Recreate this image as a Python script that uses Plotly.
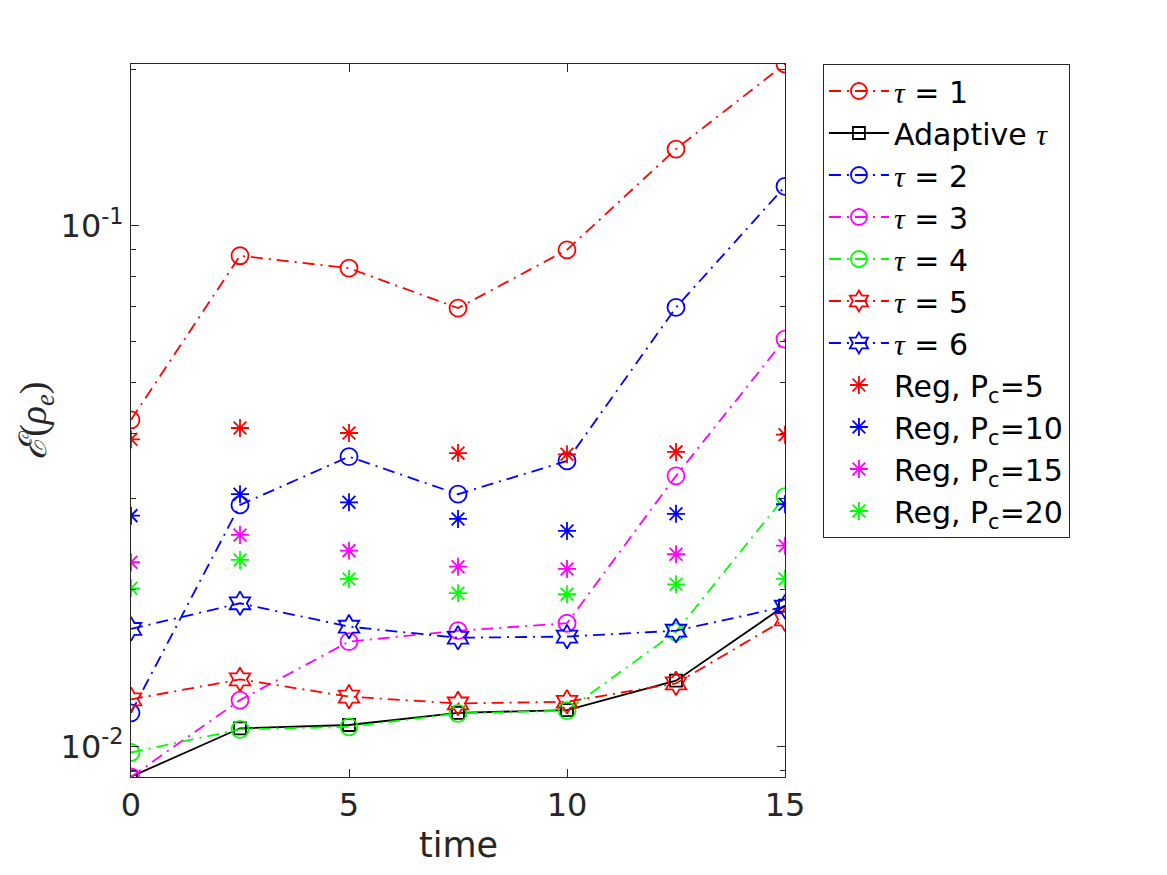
import numpy as np
import plotly.graph_objects as go

# time steps
t = [0, 2.5, 5, 7.5, 10, 12.5, 15]

# error values
tau1 = [0.0424, 0.0876, 0.0829, 0.0695, 0.0899, 0.1404, 0.2045]
adaptive = [0.00875, 0.01084, 0.01100, 0.01161, 0.01175, 0.01338, 0.01865]
tau2 = [0.01161, 0.02911, 0.03603, 0.03052, 0.03535, 0.0697, 0.1190]
tau3 = [0.00874, 0.01228, 0.01590, 0.01669, 0.01725, 0.0331, 0.0606]
tau4 = [0.00974, 0.01079, 0.01091, 0.01158, 0.01172, 0.01661, 0.0302]
tau5 = [0.01232, 0.01346, 0.01247, 0.01210, 0.01219, 0.01322, 0.01755]
tau6 = [0.01682, 0.01884, 0.01699, 0.01618, 0.01626, 0.01669, 0.01856]
reg5 = [0.0389, 0.0409, 0.0400, 0.0366, 0.0364, 0.0368, 0.0397]
reg10 = [0.02776, 0.03052, 0.02944, 0.02736, 0.02594, 0.02798, 0.02919]
reg15 = [0.02259, 0.02549, 0.02378, 0.02215, 0.02193, 0.02340, 0.02431]
reg20 = [0.02013, 0.02282, 0.02098, 0.01970, 0.01961, 0.02049, 0.02098]

ytick_vals = [0.01, 0.1]
ytick_text = ["10<sup>-2</sup>", "10<sup>-1</sup>"]
yminor_vals = [0.009, 0.02, 0.03, 0.04, 0.05, 0.06, 0.07, 0.08, 0.09, 0.2]

INK = "#262626"
DASHDOT = "12px,6px,2px,6px"
TAU = "<span style='font-family:Liberation Serif'><i>τ</i></span>"

fig = go.Figure()


def add_line(y, name, color, symbol, dash, size=17):
    fig.add_trace(go.Scatter(
        x=t, y=y, name=name, mode="lines+markers",
        line=dict(color=color, width=1.8, dash=dash),
        marker=dict(symbol=symbol, size=size, color=color,
                    line=dict(color=color, width=1.8)),
    ))


def add_stars(y, name, color):
    fig.add_trace(go.Scatter(
        x=t, y=y, name=name, mode="markers",
        marker=dict(symbol="asterisk-open", size=15, color=color,
                    line=dict(color=color, width=1.8)),
    ))


add_line(tau1, TAU + " = 1", "#ff0000", "circle-open", DASHDOT)
add_line(adaptive, "Adaptive " + TAU, "#000000", "square-open", "solid", size=12)
add_line(tau2, TAU + " = 2", "#0000ff", "circle-open", DASHDOT)
add_line(tau3, TAU + " = 3", "#ff00ff", "circle-open", DASHDOT)
add_line(tau4, TAU + " = 4", "#00ff00", "circle-open", DASHDOT)
add_line(tau5, TAU + " = 5", "#ff0000", "hexagram-open", DASHDOT, size=18)
add_line(tau6, TAU + " = 6", "#0000ff", "hexagram-open", DASHDOT, size=18)
add_stars(reg5, "Reg, P<sub>c</sub>=5", "#ff0000")
add_stars(reg10, "Reg, P<sub>c</sub>=10", "#0000ff")
add_stars(reg15, "Reg, P<sub>c</sub>=15", "#ff00ff")
add_stars(reg20, "Reg, P<sub>c</sub>=20", "#00ff00")

all_vals = tau1 + adaptive + tau2 + tau3 + tau4 + tau5 + tau6
ymin = min(all_vals)
ymax = max(all_vals)

# page body adds 8px around the figure, so the figure is a bit smaller
fig.update_layout(
    width=1151, height=859,
    margin=dict(l=123, r=374, t=56, b=90),
    paper_bgcolor="white", plot_bgcolor="white",
    font=dict(family="DejaVu Sans", color=INK, size=32),
    showlegend=True,
    legend=dict(
        x=1.058, y=1, xanchor="left", yanchor="top",
        bordercolor=INK, borderwidth=1, bgcolor="white",
        font=dict(family="DejaVu Sans", size=30, color="#000000"),
        tracegroupgap=0, itemwidth=60,
    ),
)

# axis titles as annotations so they sit where the original has them
fig.add_annotation(
    text="time", xref="paper", yref="paper", x=0.5, y=-0.096,
    xanchor="center", yanchor="middle", showarrow=False,
    font=dict(family="DejaVu Sans", size=35, color=INK),
)
fig.add_annotation(
    text="<i>ℰ</i>(<i>ρ</i><sub><i>e</i></sub>)",
    xref="paper", yref="paper", x=-0.186, y=0.5, textangle=-90,
    xanchor="left", yanchor="middle", showarrow=False,
    font=dict(family="Liberation Serif", size=38, color=INK),
)

fig.update_xaxes(
    range=[0, 15], tickvals=[0, 5, 10, 15],
    ticks="inside", ticklen=8, tickcolor=INK,
    showline=True, linecolor=INK, linewidth=1, mirror="ticks",
    showgrid=False, zeroline=False, automargin=False,
    tickfont=dict(size=32, color=INK),
)

fig.update_yaxes(
    type="log", range=[np.log10(ymin), np.log10(ymax)],
    tickmode="array", tickvals=ytick_vals, ticktext=ytick_text,
    ticks="inside", ticklen=8, tickcolor=INK,
    minor=dict(tickmode="array", tickvals=yminor_vals, ticks="inside",
               ticklen=5, tickcolor=INK, showgrid=False),
    showline=True, linecolor=INK, linewidth=1, mirror="ticks",
    showgrid=False, zeroline=False, automargin=False,
    tickfont=dict(size=32, color=INK),
)

fig.write_html("out.html")
